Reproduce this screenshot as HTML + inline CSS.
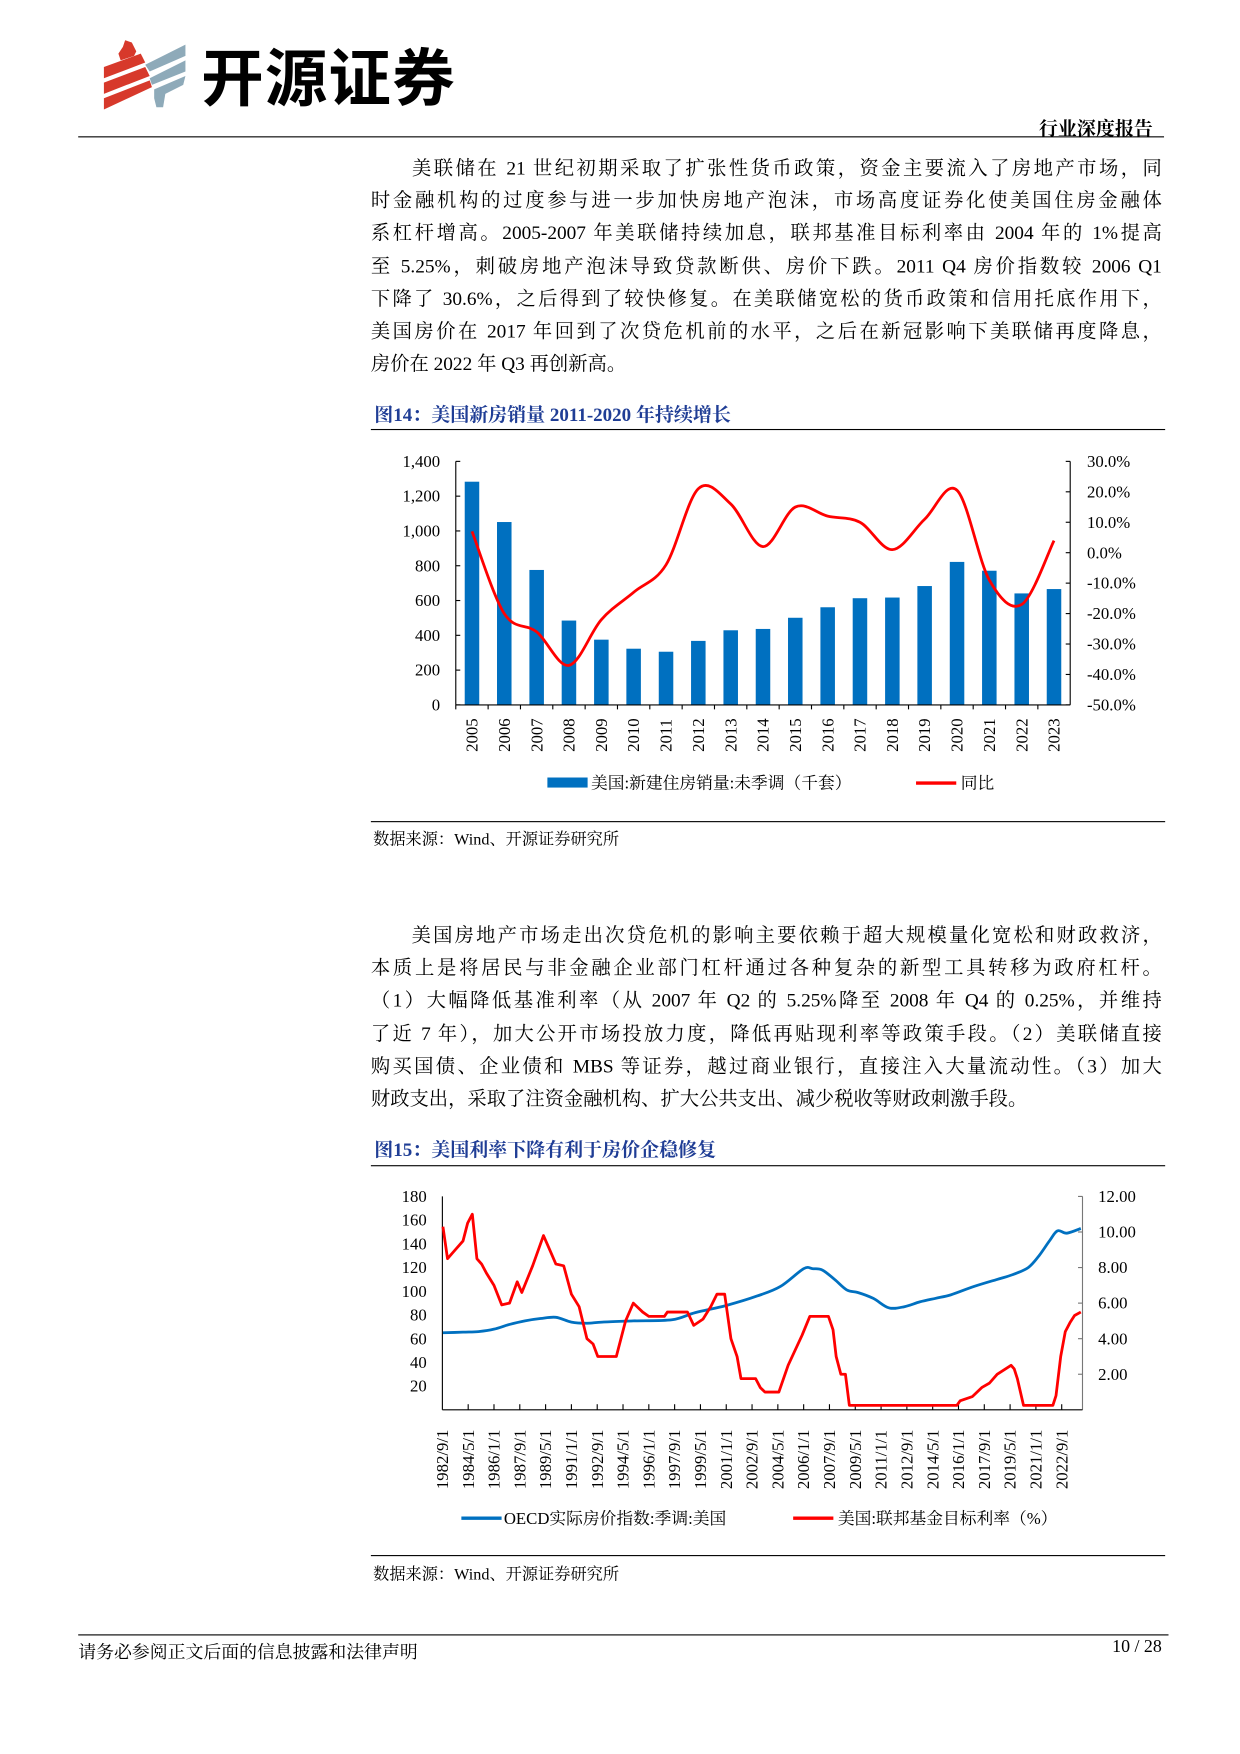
<!DOCTYPE html>
<html><head><meta charset="utf-8">
<style>
html,body{margin:0;padding:0;background:#fff;}
body{width:1240px;height:1754px;overflow:hidden;position:relative;}
#w{position:absolute;left:0;top:0;width:1110px;height:1570px;transform:scale(1.11712);transform-origin:0 0;font-family:"Liberation Serif","Noto Serif CJK SC",serif;color:#000;}
.a{position:absolute;white-space:nowrap;}
.p{position:absolute;left:332px;width:708px;font-size:17.3px;line-height:29.2px;text-align:justify;text-align-last:justify;}
.p div{white-space:nowrap;text-align:justify;text-align-last:justify;}
.hl{position:absolute;height:1.3px;background:#000;}
.t{position:absolute;left:335px;font-size:17px;font-weight:bold;color:#1f3d95;}
.src{position:absolute;left:334px;font-size:14.5px;}
svg text{font-family:"Liberation Serif","Noto Serif CJK SC",serif;}
</style></head><body><div id="w">
<svg class="a" style="left:90px;top:34px" width="80" height="68" viewBox="0 0 80 68">
<polygon points="22,2 28,4 32,12 30,16 18,20 16,14 20,8" fill="#d7392b"/>
<polygon points="3,26 36,14 40,22 3,36" fill="#d7392b"/>
<polygon points="3,40 40,26 44,34 3,50" fill="#d7392b"/>
<polygon points="3,54 44,38 46,44 3,64" fill="#d7392b"/>
<polygon points="40,24 76,6 76,16 44,30" fill="#8eaab9"/>
<polygon points="44,36 76,20 76,30 46,42" fill="#8eaab9"/>
<polygon points="48,46 76,34 74,42 58,50 56,62 50,62 48,54" fill="#8eaab9"/>
</svg>
<div class="a" style="left:180px;top:36px;font-size:56px;font-weight:bold;font-family:'Noto Sans CJK SC',sans-serif;line-height:62px;letter-spacing:1px">开源证券</div>
<div class="a" style="right:78px;top:101px;font-size:17px;font-weight:bold">行业深度报告</div>
<div class="hl" style="left:70px;width:972px;top:122px"></div>

<div class="p" style="top:136px">
<div>&emsp;&emsp;美联储在 21 世纪初期采取了扩张性货币政策，资金主要流入了房地产市场，同</div>
<div>时金融机构的过度参与进一步加快房地产泡沫，市场高度证券化使美国住房金融体</div>
<div>系杠杆增高。2005-2007 年美联储持续加息，联邦基准目标利率由 2004 年的 1%提高</div>
<div>至 5.25%，刺破房地产泡沫导致贷款断供、房价下跌。2011 Q4 房价指数较 2006 Q1</div>
<div>下降了 30.6%，之后得到了较快修复。在美联储宽松的货币政策和信用托底作用下，</div>
<div>美国房价在 2017 年回到了次贷危机前的水平，之后在新冠影响下美联储再度降息，</div>
<div style="text-align-last:left">房价在 2022 年 Q3 再创新高。</div>
</div>

<div class="t" style="top:357px">图14：美国新房销量 2011-2020 年持续增长</div>
<div class="hl" style="left:332px;width:711px;top:384px"></div>
<svg class="a" id="c1" style="left:0;top:0" width="1110" height="740"></svg>
<div class="hl" style="left:332px;width:711px;top:735px"></div>
<div class="src" style="top:740px">数据来源：Wind、开源证券研究所</div>

<div class="p" style="top:823px">
<div>&emsp;&emsp;美国房地产市场走出次贷危机的影响主要依赖于超大规模量化宽松和财政救济，</div>
<div>本质上是将居民与非金融企业部门杠杆通过各种复杂的新型工具转移为政府杠杆。</div>
<div>（1）大幅降低基准利率（从 2007 年 Q2 的 5.25%降至 2008 年 Q4 的 0.25%，并维持</div>
<div>了近 7 年），加大公开市场投放力度，降低再贴现利率等政策手段。（2）美联储直接</div>
<div>购买国债、企业债和 MBS 等证券，越过商业银行，直接注入大量流动性。（3）加大</div>
<div style="text-align-last:left">财政支出，采取了注资金融机构、扩大公共支出、减少税收等财政刺激手段。</div>
</div>

<div class="t" style="top:1015px">图15：美国利率下降有利于房价企稳修复</div>
<div class="hl" style="left:332px;width:711px;top:1043px"></div>
<svg class="a" id="c2" style="left:0;top:0" width="1110" height="1400"></svg>
<div class="hl" style="left:332px;width:711px;top:1392px"></div>
<div class="src" style="top:1398px">数据来源：Wind、开源证券研究所</div>

<div class="hl" style="left:70px;width:976px;top:1463px"></div>
<div class="a" style="left:70px;top:1466px;font-size:16px">请务必参阅正文后面的信息披露和法律声明</div>
<div class="a" style="right:70px;top:1466px;font-size:16px">10 / 28</div>
</div>
<script>
function smooth(pts){let d='M'+pts[0][0].toFixed(1)+','+pts[0][1].toFixed(1);
for(let i=0;i<pts.length-1;i++){const p0=pts[i-1]||pts[i],p1=pts[i],p2=pts[i+1],p3=pts[i+2]||p2;
const c1=[p1[0]+(p2[0]-p0[0])/6,p1[1]+(p2[1]-p0[1])/6],c2=[p2[0]-(p3[0]-p1[0])/6,p2[1]-(p3[1]-p1[1])/6];
d+='C'+c1.map(v=>v.toFixed(1))+' '+c2.map(v=>v.toFixed(1))+' '+p2.map(v=>v.toFixed(1));}return d;}
function poly(pts){return 'M'+pts.map(p=>p[0].toFixed(1)+','+p[1].toFixed(1)).join('L');}
// chart1
(function(){let s='';const L=408,R=958,T=413,B=631;const n=19,cw=(R-L)/n;
const v=[1283,1051,776,485,375,323,306,368,429,437,501,561,613,617,683,822,771,641,666];
const y=[7,-20,-26,-37,-22,-13,-4,21,16,2,15,12,10,1,11,20.5,-9,-17,4];
for(let i=0;i<n;i++){const x=L+cw*(i+0.5),h=v[i]/1400*(B-T);s+=`<rect x="${(x-6.5).toFixed(1)}" y="${(B-h).toFixed(1)}" width="13" height="${h.toFixed(1)}" fill="#0070c0"/>`;
s+=`<text transform="translate(${(x+5).toFixed(1)},673) rotate(-90)" font-size="15">${2005+i}</text>`;
s+=`<line x1="${L+cw*i}" y1="${B}" x2="${L+cw*i}" y2="${B+4}" stroke="#000"/>`;}
for(let k=0;k<=7;k++){const yy=B-k*(B-T)/7;s+=`<line x1="${L}" y1="${yy}" x2="${L+4}" y2="${yy}" stroke="#000"/><text x="${L-14}" y="${yy+5}" font-size="15" text-anchor="end">${(k*200).toLocaleString('en-US')}</text>`;}
for(let k=0;k<=8;k++){const yy=B-k*(B-T)/8;const val=-50+k*10;s+=`<line x1="${R}" y1="${yy}" x2="${R-4}" y2="${yy}" stroke="#000"/><text x="${R+15}" y="${yy+5}" font-size="15">${val.toFixed(1)}%</text>`;}
s+=`<line x1="${L}" y1="${T}" x2="${L}" y2="${B}" stroke="#000"/><line x1="${R}" y1="${T}" x2="${R}" y2="${B}" stroke="#000"/><line x1="${L}" y1="${B}" x2="${R}" y2="${B}" stroke="#000"/>`;
const pts=y.map((p,i)=>[L+cw*(i+0.5),B-(p+50)/80*(B-T)]);
s+=`<path d="${smooth(pts)}" fill="none" stroke="#ff0000" stroke-width="2.5"/>`;
s+=`<rect x="490" y="696" width="36" height="9" fill="#0070c0"/><text x="529" y="706" font-size="15">美国:新建住房销量:未季调（千套）</text>`;
s+=`<line x1="820" y1="701" x2="856" y2="701" stroke="#ff0000" stroke-width="3"/><text x="860" y="706" font-size="15">同比</text>`;
document.getElementById('c1').innerHTML=s;})();
// chart2
(function(){let s='';const L=396,R=969,T=1071,B=1262;
const X=t=>L+(t-1982.667)*12/20*23.1;
for(let k=1;k<=9;k++){const yy=B-k*20*(B-T)/180;s+=`<text x="${L-14}" y="${yy+5}" font-size="15" text-anchor="end">${k*20}</text>`;}
for(let k=1;k<=6;k++){const yy=B-k*2*(B-T)/12;s+=`<line x1="${R}" y1="${yy}" x2="${R-4}" y2="${yy}" stroke="#777"/><text x="${R+14}" y="${yy+5}" font-size="15">${(k*2).toFixed(2)}</text>`;}
s+=`<line x1="${L}" y1="${T}" x2="${L}" y2="${B}" stroke="#000"/><line x1="${R}" y1="${T}" x2="${R}" y2="${B}" stroke="#777"/><line x1="${L}" y1="${B}" x2="${R}" y2="${B}" stroke="#000"/>`;
const labs=['1982/9/1','1984/5/1','1986/1/1','1987/9/1','1989/5/1','1991/1/1','1992/9/1','1994/5/1','1996/1/1','1997/9/1','1999/5/1','2001/1/1','2002/9/1','2004/5/1','2006/1/1','2007/9/1','2009/5/1','2011/1/1','2012/9/1','2014/5/1','2016/1/1','2017/9/1','2019/5/1','2021/1/1','2022/9/1'];
labs.forEach((l,i)=>{const x=L+i*23.1;s+=`<text transform="translate(${(x+5).toFixed(1)},1333) rotate(-90)" font-size="15">${l}</text>`;if(i>0)s+=`<line x1="${x}" y1="${B}" x2="${x}" y2="${B-5}" stroke="#000"/>`;});
const blue=[[1982.7,65],[1984,65.5],[1985,66],[1986,68],[1987,72],[1988,75],[1989,77],[1990,78],[1991,74],[1992,73],[1993,74],[1995,75],[1997.5,76],[1999,82],[2001,88],[2003,96],[2004.5,104],[2006,119],[2006.6,119],[2007.2,118],[2008,110],[2008.8,101],[2009.5,99],[2010.5,94],[2011.5,86],[2012.5,87],[2013.5,91],[2014.5,94],[2015.5,97],[2017,104],[2018.5,110],[2019.5,114],[2020.5,120],[2021.2,130],[2021.9,143],[2022.4,151],[2023,149],[2023.9,153]];
const sc=v=>B-v*(B-T)/180;
s+=`<path d="${smooth(blue.map(p=>[X(p[0]),sc(p[1])]))}" fill="none" stroke="#0070c0" stroke-width="2.5"/>`;
const red=[[1982.7,10.3],[1983,8.5],[1983.4,8.9],[1984,9.5],[1984.3,10.5],[1984.6,11],[1984.9,8.5],[1985.2,8.2],[1985.5,7.7],[1986,7],[1986.5,5.9],[1987,6],[1987.5,7.2],[1987.8,6.6],[1988.5,8.1],[1989.2,9.8],[1989.6,9],[1990,8.2],[1990.5,8.1],[1991,6.5],[1991.5,5.8],[1992,4],[1992.4,3.7],[1992.7,3],[1993.9,3],[1994.5,5],[1995,6],[1995.6,5.5],[1996,5.25],[1997,5.25],[1997.2,5.5],[1998.5,5.5],[1998.9,4.75],[1999.5,5.1],[2000,5.8],[2000.4,6.5],[2000.9,6.5],[2001.3,4],[2001.7,3],[2001.95,1.75],[2002.9,1.75],[2003.2,1.25],[2003.5,1],[2004.4,1],[2005,2.5],[2005.9,4.2],[2006.4,5.25],[2007.6,5.25],[2007.9,4.5],[2008.1,3],[2008.4,2],[2008.7,2],[2008.95,0.25],[2015.9,0.25],[2016.1,0.5],[2016.9,0.75],[2017.5,1.25],[2018,1.5],[2018.5,2],[2019.4,2.5],[2019.6,2.3],[2019.8,1.75],[2020.2,0.25],[2022.1,0.25],[2022.3,0.8],[2022.6,3],[2022.9,4.4],[2023.2,4.9],[2023.5,5.3],[2023.9,5.5]];
const sr=v=>B-v*(B-T)/12;
s+=`<path d="${poly(red.map(p=>[X(p[0]),sr(p[1])]))}" fill="none" stroke="#ff0000" stroke-width="2.5" stroke-linejoin="round"/>`;
s+=`<line x1="413" y1="1359" x2="449" y2="1359" stroke="#0070c0" stroke-width="3"/><text x="451" y="1364" font-size="15">OECD实际房价指数:季调:美国</text>`;
s+=`<line x1="710" y1="1359" x2="746" y2="1359" stroke="#ff0000" stroke-width="3"/><text x="750" y="1364" font-size="15">美国:联邦基金目标利率（%）</text>`;
document.getElementById('c2').innerHTML=s;})();
</script>
</body></html>
